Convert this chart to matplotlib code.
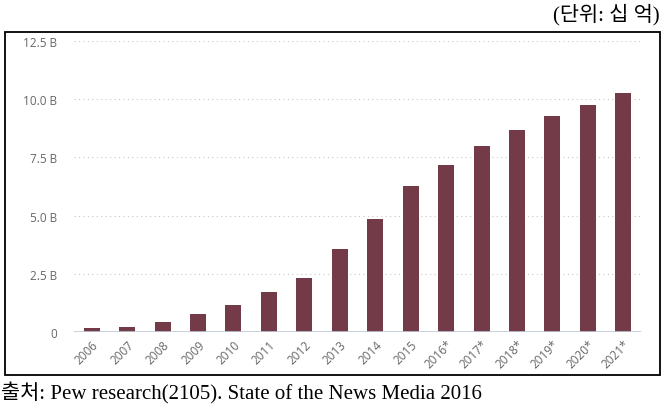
import matplotlib
matplotlib.use("Agg")
import matplotlib.pyplot as plt
from matplotlib.patches import Rectangle

years = ["2006", "2007", "2008", "2009", "2010", "2011", "2012", "2013",
         "2014", "2015", "2016*", "2017*", "2018*", "2019*", "2020*", "2021*"]
revenue = [0.17, 0.21, 0.43, 0.79, 1.16, 1.72, 2.32, 3.56,
           4.85, 6.27, 7.17, 7.97, 8.66, 9.27, 9.74, 10.26]
y_ticks = [0, 2.5, 5.0, 7.5, 10.0, 12.5]
y_labels = ["0", "2.5 B", "5.0 B", "7.5 B", "10.0 B", "12.5 B"]

bar_color = "#733b47"
tick_color = "#666666"

fig = plt.figure(figsize=(6.71, 4.06), dpi=100)

# outer frame around the chart
fig.patches.append(Rectangle((5 / 671, 1 - 376 / 406), 655 / 671, 343 / 406,
                             transform=fig.transFigure, fill=False,
                             edgecolor="black", linewidth=1.3))

ax = fig.add_axes([74 / 671, 1 - 333 / 406, 567 / 671, 291 / 406])
x = range(len(years))
ax.bar(x, revenue, width=0.45, color=bar_color, zorder=3)

ax.set_xlim(-0.5, len(years) - 0.5)
ax.set_ylim(0, 12.5)
ax.set_yticks(y_ticks)
ax.set_yticklabels(y_labels, fontsize=8.5, color=tick_color, family="Open Sans")
ax.set_xticks(list(x))
ax.set_xticklabels(years, fontsize=8.5, color=tick_color, family="Open Sans",
                   rotation=45, ha="right", rotation_mode="anchor")

for v in y_ticks[1:]:
    ax.axhline(v, color="#c8c8c8", linewidth=0.8, linestyle=(0, (1, 3)), zorder=1)
ax.axhline(0, color="#c0c8d8", linewidth=1.2, zorder=4)

for s in ax.spines.values():
    s.set_visible(False)
ax.tick_params(length=0)
ax.tick_params(axis="y", pad=12)
ax.tick_params(axis="x", pad=4)

fig.text(660 / 671, 1 - 15 / 406, "(단위: 십 억)", ha="right", va="center",
         fontsize=15, family=["Liberation Serif", "Noto Sans CJK KR"])
fig.text(1 / 671, 1 - 393 / 406,
         "출처: Pew research(2105). State of the News Media 2016",
         ha="left", va="center", fontsize=15,
         family=["Liberation Serif", "Noto Sans CJK KR"])

fig.savefig("out.png", dpi=100)
